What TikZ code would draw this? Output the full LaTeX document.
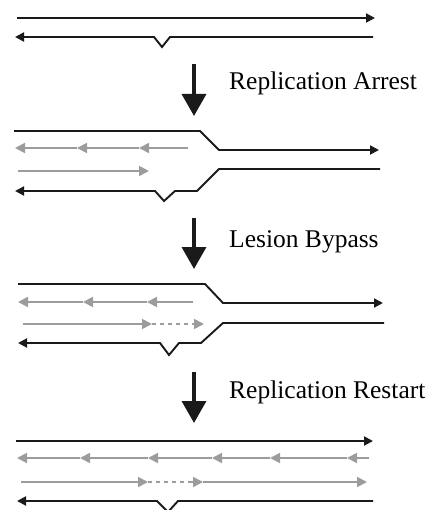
\documentclass[tikz,border=0pt]{standalone}
\usepackage{fontspec}
\setmainfont{Liberation Serif}
\usetikzlibrary{arrows.meta}
\definecolor{strand}{HTML}{1A1A1A}
\definecolor{newdna}{HTML}{9C9C9C}
\tikzset{
  dna/.style={draw=strand, line width=1.9pt},
  dnatip/.style={dna, -{Triangle[length=9pt,width=9pt]}},
  nascent/.style={draw=newdna, line width=1.8pt, -{Triangle[length=10pt,width=10pt]}},
  gap/.style={draw=newdna, line width=1.6pt, dash pattern=on 4pt off 4pt},
  stagearrow/.style={draw=strand, line width=3.5pt, -{Triangle[length=22pt,width=24pt]}},
  stagelabel/.style={anchor=base west, inner sep=0pt, font=\fontsize{25.5}{30}\selectfont}
}
\begin{document}
\begin{tikzpicture}[x=1pt,y=-1pt]
\useasboundingbox (0,0) rectangle (429,510);
% ---------- panel 1 ----------
\draw[dnatip] (17,18) -- (375,18);
\draw[dnatip] (373,37) -- (170,37) -- (162,47) -- (154,37) -- (15,37);
% arrow 1
\coordinate (a1s) at (194,64);
\coordinate (a1e) at (194,116);
\draw[stagearrow] (a1s) -- (a1e);
\node[stagelabel] (l1) at (229,90) {Replication Arrest};
% ---------- panel 2 ----------
\draw[dnatip] (14,131) -- (200,131) -- (219,150) -- (379,150);
\draw[dnatip] (380,169) -- (219,169) -- (197,191) -- (175,191) -- (164,201) -- (155,191) -- (15,191);
\draw[nascent] (188,148) -- (139,148);
\draw[nascent] (139,148) -- (77,148);
\draw[nascent] (77,148) -- (15,148);
\draw[nascent] (18,171) -- (149,171);
% arrow 2
\coordinate (a2s) at (194,218);
\coordinate (a2e) at (194,269);
\draw[stagearrow] (a2s) -- (a2e);
\node[stagelabel] (l2) at (229,247) {Lesion Bypass};
% ---------- panel 3 ----------
\draw[dnatip] (18,284) -- (205,284) -- (223,303) -- (383,303);
\draw[dnatip] (384,323) -- (223,323) -- (201,343) -- (179,343) -- (169,355) -- (160,343) -- (18,343);
\draw[nascent] (193,302) -- (147,302);
\draw[nascent] (147,302) -- (83,302);
\draw[nascent] (83,302) -- (18,302);
\draw[nascent] (23,324) -- (152,324);
\draw[gap] (152,324) -- (196,324);
\draw[nascent] (194,324) -- (204,324);
% arrow 3
\coordinate (a3s) at (194,372);
\coordinate (a3e) at (194,423);
\draw[stagearrow] (a3s) -- (a3e);
\node[stagelabel] (l3) at (229,398) {Replication Restart};
% ---------- panel 4 ----------
\draw[dnatip] (16,441) -- (373,441);
\draw[dnatip] (373,501) -- (178,501) -- (168,512) -- (157,501) -- (17,501);
\draw[nascent] (369,458) -- (347,458);
\draw[nascent] (347,458) -- (270,458);
\draw[nascent] (270,458) -- (212,458);
\draw[nascent] (212,458) -- (148,458);
\draw[nascent] (148,458) -- (80,458);
\draw[nascent] (80,458) -- (17,458);
\draw[nascent] (21,482) -- (148,482);
\draw[gap] (148,482) -- (194,482);
\draw[nascent] (192,482) -- (203,482);
\draw[nascent] (203,482) -- (367,482);
\end{tikzpicture}
\end{document}
